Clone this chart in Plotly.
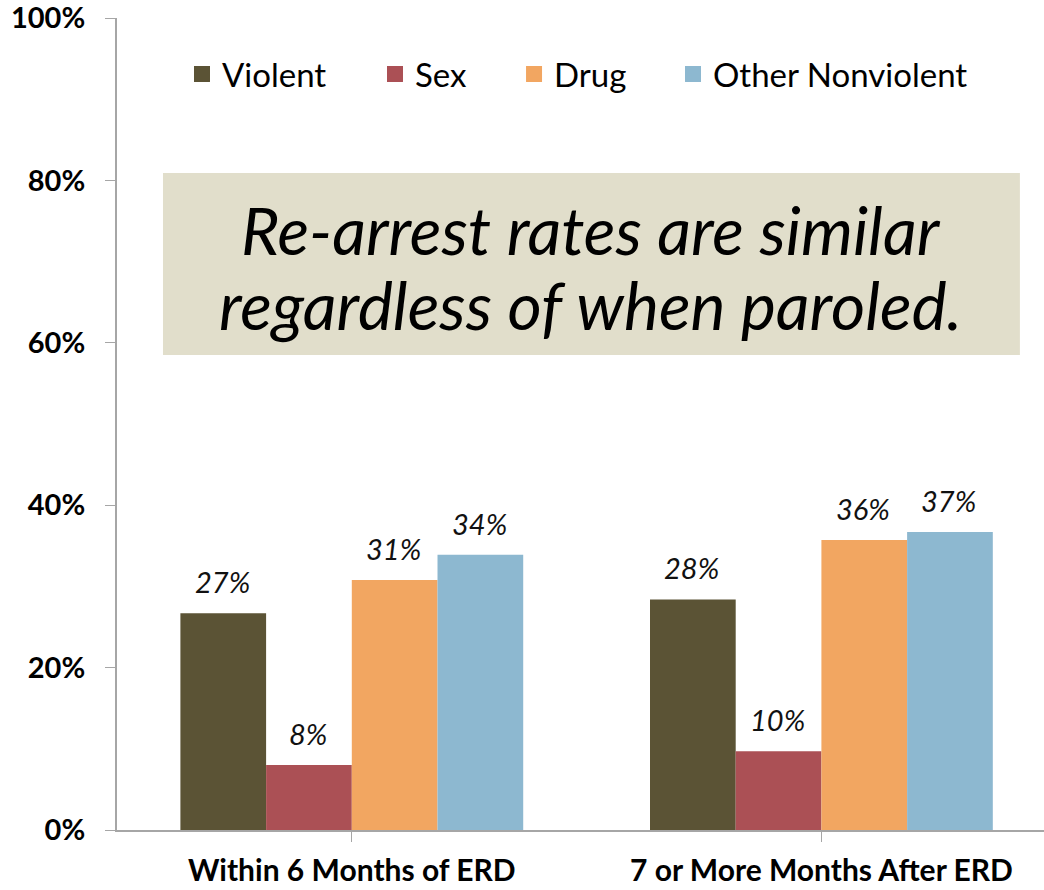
import plotly.graph_objects as go

# Re-arrest rates by offense type and timing of parole
periods = ["Within 6 Months of ERD", "7 or More Months After ERD"]
offenses = ["Violent", "Sex", "Drug", "Other Nonviolent"]
violent = [0.267, 0.284]
sex = [0.080, 0.097]
drug = [0.308, 0.357]
other_nonviolent = [0.339, 0.367]
colors = ["#5B5335", "#AB5055", "#F2A661", "#8DB8D0"]
headline = ["Re-arrest rates are similar", "regardless of when paroled."]

series = [violent, sex, drug, other_nonviolent]
bargap = 0.27
bar_w = (1 - bargap) / len(offenses)

FONT = "Lato"

# one single-entry legend per offense so each can be placed on its own
legend_ids = ["legend", "legend2", "legend3", "legend4"]
legend_x = [0.0701, 0.2783, 0.4283, 0.5998]

fig = go.Figure()
x_idx = list(range(len(periods)))
for name, vals, col, lg in zip(offenses, series, colors, legend_ids):
    fig.add_trace(go.Bar(
        x=x_idx, y=vals, name=name, marker=dict(color=col, line=dict(width=0)),
        showlegend=False,
    ))
    # legend swatch
    fig.add_trace(go.Scatter(
        x=[None], y=[None], mode="markers", name=name, legend=lg,
        marker=dict(symbol="square", size=16, color=col),
    ))

# value labels above the bars
annotations = []
for i, vals in enumerate(series):
    for j, v in enumerate(vals):
        annotations.append(dict(
            x=j + (i - 1.5) * bar_w, y=v, xref="x", yref="y",
            text=f"{v:.0%}", showarrow=False, yanchor="bottom", yshift=12, xshift=-1,
            font=dict(family=FONT, size=29, color="#111111", style="italic"),
        ))

# headline inside the shaded box
for line, yc in zip(headline, [0.740, 0.647]):
    annotations.append(dict(
        x=0.511, y=yc, xref="paper", yref="paper", xanchor="center", yanchor="middle",
        text=line, showarrow=False,
        font=dict(family=FONT, size=66, color="#000000", style="italic"),
    ))

legend_common = dict(
    orientation="h", y=0.931, xanchor="left", yanchor="middle",
    font=dict(family=FONT, size=33, color="#000000"),
    bgcolor="rgba(0,0,0,0)", itemwidth=30,
)
layout_legends = {lg: dict(x=lx, **legend_common) for lg, lx in zip(legend_ids, legend_x)}

fig.update_layout(
    width=1044, height=890,
    margin=dict(l=117, r=0, t=18, b=60),
    paper_bgcolor="white", plot_bgcolor="white",
    barmode="group", bargap=bargap, bargroupgap=0,
    font=dict(family=FONT, color="#000000"),
    showlegend=True,
    shapes=[dict(
        type="rect", xref="paper", yref="paper",
        x0=0.0496, x1=0.974, y0=0.585, y1=0.809,
        fillcolor="#E1DECB", line=dict(width=0), layer="below",
    )],
    annotations=annotations,
    **layout_legends,
)

fig.update_xaxes(
    range=[-0.5, 1.474], tickmode="array", tickvals=x_idx, ticktext=periods,
    tickson="boundaries", ticks="outside", ticklen=10, tickcolor="#A6A6A6",
    showline=True, linecolor="#A6A6A6", linewidth=2, showgrid=False,
    tickfont=dict(family=FONT, size=30, color="#000000", weight="bold"),
    zeroline=False, ticklabelstandoff=3, ticklabeloverflow="allow",
)
fig.update_yaxes(
    range=[0, 1], dtick=0.2, tickformat=".0%",
    ticks="outside", ticklen=10, tickcolor="#A6A6A6",
    showline=True, linecolor="#A6A6A6", linewidth=2, showgrid=False, zeroline=False,
    tickfont=dict(family=FONT, size=29, color="#000000", weight="bold"),
    ticklabelstandoff=14, ticklabeloverflow="allow",
)

fig.write_html("out.html")
